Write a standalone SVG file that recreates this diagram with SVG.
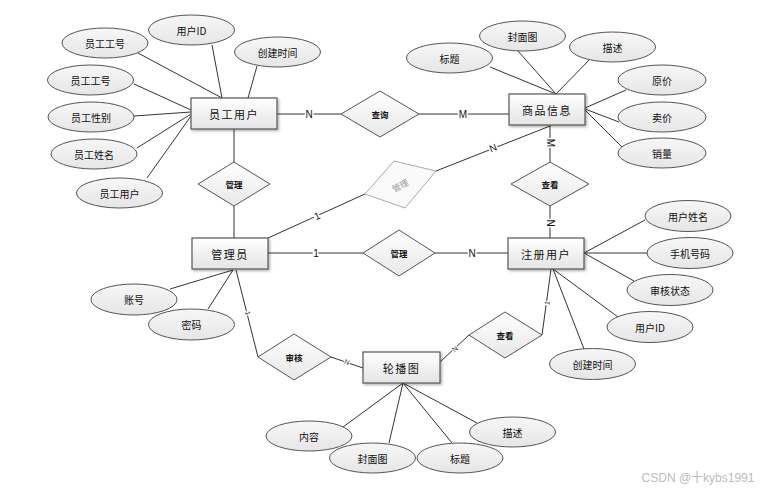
<svg xmlns="http://www.w3.org/2000/svg" width="768" height="493" viewBox="0 0 768 493">
<defs>
<linearGradient id="gr" x1="0" y1="0" x2="0" y2="1"><stop offset="0" stop-color="#ffffff"/><stop offset="1" stop-color="#e4e4e4"/></linearGradient>
<linearGradient id="ge" x1="0" y1="0" x2="0" y2="1"><stop offset="0" stop-color="#f7f7f7"/><stop offset="1" stop-color="#e6e6e6"/></linearGradient>
<linearGradient id="gd" x1="0" y1="0" x2="0" y2="1"><stop offset="0" stop-color="#ffffff"/><stop offset="1" stop-color="#e8e8e8"/></linearGradient>
<filter id="sh" x="-10%" y="-10%" width="130%" height="140%"><feDropShadow dx="1.5" dy="1.5" stdDeviation="1" flood-color="#000" flood-opacity="0.3"/></filter>
</defs>
<style>
text{font-family:"Noto Sans CJK SC","Liberation Sans",sans-serif;fill:#111;text-anchor:middle;dominant-baseline:central}
.ent rect{fill:url(#gr);stroke:#555;stroke-width:1.2;filter:url(#sh)}
.ent text{font-size:11px;letter-spacing:1.5px}
.att ellipse{fill:url(#ge);stroke:#555;stroke-width:1}
.att text{font-size:10px}
.rel polygon{fill:url(#gd);stroke:#555;stroke-width:1}
.rel text{font-size:8.5px;font-weight:bold}
#connectors line{stroke:#333;stroke-width:1;fill:none}
.card{font-family:"Liberation Sans",sans-serif;font-size:10px;stroke:#fff;stroke-width:3px;paint-order:stroke;fill:#111}
.cs{font-family:"Liberation Sans",sans-serif;font-size:7px;stroke:#fff;stroke-width:2px;paint-order:stroke;fill:#333}
</style>
<rect width="768" height="493" fill="#fff"/>
<g id="connectors">
<line x1="138" y1="53" x2="222" y2="98"/>
<line x1="212" y1="45" x2="222" y2="98"/>
<line x1="257" y1="66" x2="248" y2="98"/>
<line x1="134" y1="84" x2="191" y2="110"/>
<line x1="134" y1="116" x2="191" y2="112"/>
<line x1="137" y1="148" x2="191" y2="114"/>
<line x1="147" y1="178" x2="191" y2="116"/>
<line x1="277" y1="114" x2="341" y2="114"/>
<line x1="419" y1="114" x2="509" y2="114"/>
<line x1="490" y1="67" x2="556" y2="94"/>
<line x1="518" y1="51" x2="556" y2="94"/>
<line x1="592" y1="57" x2="556" y2="94"/>
<line x1="626" y1="90" x2="585" y2="108"/>
<line x1="585" y1="109" x2="619" y2="122"/>
<line x1="585" y1="110" x2="623" y2="148"/>
<line x1="550" y1="125" x2="550" y2="162"/>
<line x1="550" y1="206" x2="550" y2="238"/>
<line x1="268" y1="238" x2="365" y2="194"/>
<line x1="436" y1="171" x2="550" y2="126"/>
<line x1="234" y1="129" x2="234" y2="162"/>
<line x1="234" y1="206" x2="234" y2="238"/>
<line x1="268" y1="253" x2="363" y2="253"/>
<line x1="435" y1="253" x2="508" y2="253"/>
<line x1="584" y1="253" x2="645" y2="220"/>
<line x1="584" y1="253" x2="647" y2="253"/>
<line x1="584" y1="253" x2="634" y2="281"/>
<line x1="553" y1="269" x2="618" y2="317"/>
<line x1="553" y1="269" x2="584" y2="349"/>
<line x1="551" y1="269" x2="542" y2="335"/>
<line x1="469" y1="335" x2="440" y2="362"/>
<line x1="170" y1="289" x2="233" y2="270"/>
<line x1="208" y1="309" x2="233" y2="270"/>
<line x1="236" y1="270" x2="258" y2="357"/>
<line x1="331" y1="357" x2="363" y2="368"/>
<line x1="403" y1="383" x2="343" y2="427"/>
<line x1="403" y1="383" x2="389" y2="443"/>
<line x1="403" y1="383" x2="452" y2="443"/>
<line x1="403" y1="383" x2="477" y2="423"/>
<text class="card" x="309" y="114">N</text>
<text class="card" x="463" y="114">M</text>
<text class="card" x="550" y="143" transform="rotate(90 550 143)">M</text>
<text class="card" x="550" y="223" transform="rotate(90 550 223)">N</text>
<text class="card" x="316" y="253">1</text>
<text class="card" x="472" y="253">N</text>
<text class="card" x="317" y="216" transform="rotate(-24 317 216)">1</text>
<text class="card" x="493" y="148" transform="rotate(-22 493 148)">N</text>
<text class="cs" x="248" y="313" transform="rotate(76 248 313)">1</text>
<text class="cs" x="347" y="362" transform="rotate(19 347 362)">N</text>
<text class="cs" x="547" y="303" transform="rotate(-82 547 303)">1</text>
<text class="cs" x="455" y="349" transform="rotate(-43 455 349)">N</text>
</g>
<g id="n-yuangong" class="ent"><rect x="191" y="98" width="86" height="31"/><text x="234" y="113.5">员工用户</text></g>
<g id="n-shangpin" class="ent"><rect x="509" y="94" width="76" height="31"/><text x="547" y="109.5">商品信息</text></g>
<g id="n-guanliyuan" class="ent"><rect x="192" y="238" width="76" height="31"/><text x="230" y="253.5">管理员</text></g>
<g id="n-zhuce" class="ent"><rect x="508" y="238" width="76" height="31"/><text x="546" y="253.5">注册用户</text></g>
<g id="n-lunbo" class="ent"><rect x="363" y="352" width="77" height="31"/><text x="401.5" y="367.5">轮播图</text></g>
<g id="r-chaxun" class="rel"><polygon points="380,91 419,114 380,137 341,114"/><text x="380" y="114">查询</text></g>
<g id="r-guanli1" class="rel"><polygon points="234,162 270,184 234,206 198,184"/><text x="234" y="184">管理</text></g>
<g id="r-guanli-gray" class="rel"><polygon points="394,161 436,171 405,208 365,194" style="stroke:#aaa;fill:#fafafa"/><text x="400" y="185" transform="rotate(-28 400 185)" style="fill:#999;font-weight:normal">管理</text></g>
<g id="r-chakan1" class="rel"><polygon points="550,162 589,184 550,206 511,184"/><text x="550" y="184">查看</text></g>
<g id="r-guanli2" class="rel"><polygon points="399,230 435,253 399,276 363,253"/><text x="399" y="253">管理</text></g>
<g id="r-chakan2" class="rel"><polygon points="505,312 542,335 505,358 469,335"/><text x="505" y="335">查看</text></g>
<g id="r-shenhe" class="rel"><polygon points="294,334 331,357 294,380 258,357"/><text x="294" y="357">审核</text></g>
<g id="a-ygh1" class="att"><ellipse cx="105" cy="43" rx="43" ry="15"/><text x="105" y="43">员工工号</text></g>
<g id="a-yhid1" class="att"><ellipse cx="191.5" cy="30" rx="43" ry="15"/><text x="191.5" y="30">用户ID</text></g>
<g id="a-cjsj1" class="att"><ellipse cx="277.5" cy="52" rx="43" ry="15"/><text x="277.5" y="52">创建时间</text></g>
<g id="a-ygh2" class="att"><ellipse cx="90.5" cy="80" rx="43" ry="15"/><text x="90.5" y="80">员工工号</text></g>
<g id="a-ygxb" class="att"><ellipse cx="91" cy="117" rx="43" ry="15"/><text x="91" y="117">员工性别</text></g>
<g id="a-ygxm" class="att"><ellipse cx="94" cy="154" rx="43" ry="15"/><text x="94" y="154">员工姓名</text></g>
<g id="a-ygyh" class="att"><ellipse cx="119.5" cy="193" rx="43" ry="15"/><text x="119.5" y="193">员工用户</text></g>
<g id="a-bt1" class="att"><ellipse cx="449.5" cy="58" rx="43" ry="15"/><text x="449.5" y="58">标题</text></g>
<g id="a-fmt1" class="att"><ellipse cx="522.5" cy="36" rx="43" ry="15"/><text x="522.5" y="36">封面图</text></g>
<g id="a-ms1" class="att"><ellipse cx="612.5" cy="47" rx="43" ry="15"/><text x="612.5" y="47">描述</text></g>
<g id="a-yj" class="att"><ellipse cx="662" cy="80" rx="44" ry="15"/><text x="662" y="80">原价</text></g>
<g id="a-mj" class="att"><ellipse cx="662" cy="117" rx="44" ry="15"/><text x="662" y="117">卖价</text></g>
<g id="a-xl" class="att"><ellipse cx="662" cy="153" rx="44" ry="15"/><text x="662" y="153">销量</text></g>
<g id="a-yhxm" class="att"><ellipse cx="688" cy="216" rx="43" ry="15.5"/><text x="688" y="216">用户姓名</text></g>
<g id="a-sjhm" class="att"><ellipse cx="690" cy="253" rx="43" ry="15.5"/><text x="690" y="253">手机号码</text></g>
<g id="a-shzt" class="att"><ellipse cx="670" cy="290" rx="43" ry="15.5"/><text x="670" y="290">审核状态</text></g>
<g id="a-yhid2" class="att"><ellipse cx="650" cy="327" rx="43" ry="15.5"/><text x="650" y="327">用户ID</text></g>
<g id="a-cjsj2" class="att"><ellipse cx="592.5" cy="364" rx="43" ry="15.5"/><text x="592.5" y="364">创建时间</text></g>
<g id="a-zh" class="att"><ellipse cx="134" cy="299.5" rx="43" ry="15.5"/><text x="134" y="299.5">账号</text></g>
<g id="a-mm" class="att"><ellipse cx="191.5" cy="324.5" rx="43" ry="15.5"/><text x="191.5" y="324.5">密码</text></g>
<g id="a-nr" class="att"><ellipse cx="309" cy="436" rx="43" ry="15"/><text x="309" y="436">内容</text></g>
<g id="a-fmt2" class="att"><ellipse cx="372.5" cy="458" rx="43" ry="15"/><text x="372.5" y="458">封面图</text></g>
<g id="a-bt2" class="att"><ellipse cx="460" cy="458" rx="43" ry="15"/><text x="460" y="458">标题</text></g>
<g id="a-ms2" class="att"><ellipse cx="512.5" cy="432" rx="43" ry="15"/><text x="512.5" y="432">描述</text></g>
<text x="698" y="478" style="font-family:'Liberation Sans','Noto Sans CJK SC',sans-serif;font-size:12px;fill:#bbb">CSDN @十kybs1991</text>
</svg>
